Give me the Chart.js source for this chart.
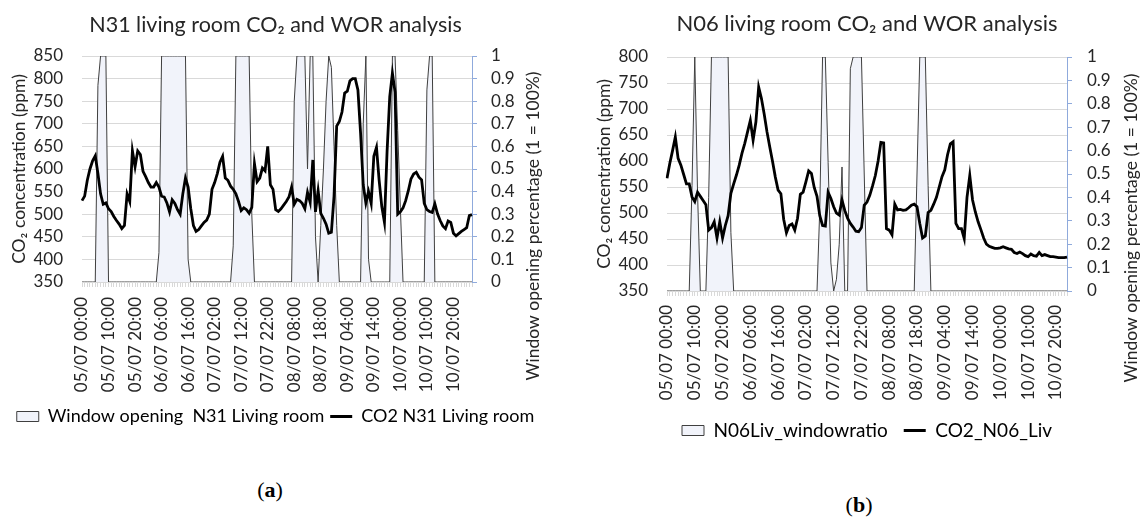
<!DOCTYPE html>
<html>
<head>
<meta charset="utf-8">
<title>Living room CO2 and WOR analysis</title>
<script src="https://cdn.jsdelivr.net/npm/chart.js@4.4.1/dist/chart.umd.min.js"></script>
<style>
  body { margin: 0; background: #fff; }
  #page { position: relative; width: 1143px; height: 519px; overflow: hidden; }
  canvas { position: absolute; top: 0; }
  #chartA { left: 0; }
  #chartB { left: 570px; }
  .cap { position: absolute; font-family: "Liberation Serif", "DejaVu Serif", serif; font-size: 22px; color: #000; transform: translate(-50%, -50%); }
</style>
</head>
<body>
<div id="page">
  <canvas id="chartA" width="570" height="440"></canvas>
  <canvas id="chartB" width="573" height="460"></canvas>
  <div class="cap" style="left:270px; top:490px">(<b>a</b>)</div>
  <div class="cap" style="left:859px; top:505px">(<b>b</b>)</div>
</div>
<script>
// DATA
const tickLabels = ['05/07 00:00', '05/07 10:00', '05/07 20:00', '06/07 06:00', '06/07 16:00',
  '07/07 02:00', '07/07 12:00', '07/07 22:00', '08/07 08:00', '08/07 18:00',
  '09/07 04:00', '09/07 14:00', '10/07 00:00', '10/07 10:00', '10/07 20:00'];

// hourly categories starting 05/07 00:00
const hourLabels = (n) => {
  const out = [];
  for (let i = 0; i < n; i++) {
    const d = String(5 + Math.floor(i / 24)).padStart(2, '0');
    const h = String(i % 24).padStart(2, '0');
    out.push(d + '/07 ' + h + ':00');
  }
  return out;
};
const hoursN31 = hourLabels(148);
const hoursN06 = hourLabels(145);

const co2N31 = [
  530, 540, 575, 600, 618, 629, 590, 545, 522, 525,
  512, 506, 495, 486, 478, 468, 475, 545, 528, 640,
  605, 640, 632, 595, 583, 570, 560, 560, 570, 560,
  540, 538, 525, 505, 532, 524, 510, 500, 545, 580,
  560, 512, 475, 462, 466, 474, 482, 487, 500, 555,
  570, 590, 615, 628, 580, 575, 562, 555, 545, 528,
  508, 514, 510, 502, 515, 612, 572, 580, 602, 596,
  650, 565, 555, 510, 506, 512, 520, 528, 538, 560,
  522, 533, 530, 524, 512, 548, 526, 620, 505, 552,
  502, 491, 478, 458, 460, 540, 695, 705, 726, 768,
  772, 795, 800, 800, 775, 680, 565, 525, 550, 524,
  628, 648, 575, 517, 482, 640, 760, 812, 770, 500,
  505, 514, 530, 552, 578, 589, 593, 582, 576, 524,
  510, 506, 504, 523, 501, 486, 474, 468, 485, 482,
  458, 452, 457, 462, 466, 470, 497, 499
];
const windowN31 = [
  0, 0, 0, 0, 0, 0, 0.87, 1, 1, 1,
  0, 0, 0, 0, 0, 0, 0, 0, 0, 0,
  0, 0, 0, 0, 0, 0, 0, 0, 0, 0.13,
  1, 1, 1, 1, 1, 1, 1, 1, 1, 1,
  0.1, 0, 0, 0, 0, 0, 0, 0, 0, 0,
  0, 0, 0, 0, 0, 0, 0, 0.16, 1, 1,
  1, 1, 1, 1, 0.3, 0, 0, 0, 0, 0,
  0, 0, 0, 0, 0, 0, 0, 0, 0, 0,
  0.8, 1, 1, 1, 1, 0.5, 1, 1, 0.2, 0,
  0.25, 0.5, 0.8, 1, 0.95, 0.6, 0.25, 0, 0, 0,
  0, 0, 0, 0, 0, 0, 0.7, 1, 0.1, 0,
  0, 0, 0, 0, 0, 0, 0, 1, 1, 0.67,
  0.33, 0, 0, 0, 0, 0, 0, 0, 0, 0,
  0.85, 1, 1, 0, 0, 0, 0, 0, 0, 0,
  0, 0, 0, 0, 0, 0, 0, 0
];

const co2N06 = [
  567, 595, 620, 646, 605, 592, 574, 556, 556, 531,
  522, 540, 532, 524, 516, 467, 472, 483, 452, 483,
  452, 476, 495, 538, 556, 573, 592, 615, 634, 656,
  678, 640, 675, 742, 720, 690, 656, 627, 599, 569,
  544, 537, 488, 462, 476, 479, 467, 490, 536, 540,
  560, 581, 576, 549, 532, 495, 476, 475, 540, 528,
  512, 500, 496, 525, 505, 490, 480, 473, 465, 464,
  472, 515, 521, 534, 552, 572, 600, 636, 635, 470,
  467, 458, 517, 506, 507, 505, 506, 510, 515, 517,
  512, 480, 452, 456, 501, 505, 517, 530, 550, 570,
  583, 612, 633, 637, 480, 470, 470, 451, 530, 572,
  525, 502, 483, 468, 452, 440, 436, 434, 432, 432,
  433, 435, 433, 431, 430, 424, 422, 425, 422, 418,
  416, 421, 418, 417, 424, 418, 420, 418, 416, 416,
  415, 414, 414, 414, 415
];
const windowN06 = [
  0, 0, 0, 0, 0, 0, 0, 0, 0, 0.45,
  1, 0.42, 0, 0, 0, 0.4, 1, 1, 1, 1,
  1, 1, 1, 0.25, 0, 0, 0, 0, 0, 0,
  0, 0, 0, 0, 0, 0, 0, 0, 0, 0,
  0, 0, 0, 0, 0, 0, 0, 0, 0, 0,
  0, 0, 0, 0, 0, 0.35, 1, 1, 0.55, 0.12,
  0, 0.05, 0.2, 0.53, 0, 0, 0.95, 1, 1, 1,
  1, 0.5, 0, 0, 0, 0, 0, 0, 0, 0,
  0, 0, 0, 0, 0, 0, 0, 0, 0, 0,
  0.5, 1, 1, 1, 0.45, 0, 0, 0, 0, 0,
  0, 0, 0, 0, 0, 0, 0, 0, 0, 0,
  0, 0, 0, 0, 0, 0, 0, 0, 0, 0,
  0, 0, 0, 0, 0, 0, 0, 0, 0, 0,
  0, 0, 0, 0, 0, 0, 0, 0, 0, 0,
  0, 0, 0, 0, 0
];

// STYLE
const FONT = 'Lato, "Open Sans", sans-serif';
const TEXT = '#262626';
const GRID = '#d9d9d9';
const AXIS_BLUE = '#8faadc';
const WIN_FILL = '#f1f3fa';
const WIN_LINE = '#3f3f3f';

// right axis title reads bottom to top, like the left one
const rightTitle = {
  id: 'rightTitle',
  afterDraw(chart, args, opts) {
    const ctx = chart.ctx;
    ctx.save();
    ctx.translate(opts.x, opts.y);
    ctx.rotate(-Math.PI / 2);
    ctx.font = opts.size + 'px ' + FONT;
    ctx.fillStyle = TEXT;
    ctx.textAlign = 'center';
    ctx.textBaseline = 'middle';
    ctx.fillText(opts.text, 0, 0);
    ctx.restore();
  }
};

function makeChart(id, o) {
  const tickFont = { family: FONT, size: o.tickSize };
  return new Chart(document.getElementById(id), {
    type: 'line',
    data: {
      labels: o.labels,
      datasets: [{
        label: o.winName,
        data: o.win,
        yAxisID: 'y1',
        borderColor: WIN_LINE,
        borderWidth: 1,
        backgroundColor: WIN_FILL,
        fill: 'origin',
        pointRadius: 0,
        tension: 0,
        order: 2
      }, {
        label: o.co2Name,
        data: o.co2,
        yAxisID: 'y',
        borderColor: '#000',
        borderWidth: 2.8,
        fill: false,
        pointRadius: 0,
        tension: 0,
        order: 1
      }]
    },
    options: {
      responsive: false,
      animation: false,
      devicePixelRatio: 1,
      layout: { padding: o.pad },
      plugins: {
        tooltip: { enabled: false },
        title: {
          display: true,
          text: o.title,
          color: TEXT,
          font: { family: FONT, size: o.titleSize, weight: 'normal' },
          padding: o.titlePad
        },
        legend: {
          position: 'bottom',
          labels: {
            usePointStyle: true,
            pointStyleWidth: 22,
            boxHeight: 10,
            padding: o.legendPad,
            color: TEXT,
            font: { family: FONT, size: o.legendSize },
            generateLabels: () => [
              { text: o.winName, fillStyle: WIN_FILL, strokeStyle: WIN_LINE, lineWidth: 1, pointStyle: 'rect', datasetIndex: 0, hidden: false },
              { text: o.co2Name, fillStyle: '#000', strokeStyle: '#000', lineWidth: 3, pointStyle: 'line', datasetIndex: 1, hidden: false }
            ]
          }
        },
        rightTitle: { text: 'Window opening percentage (1 = 100%)', x: o.rtX, y: o.rtY, size: o.axisTitleSize }
      },
      scales: {
        x: {
          offset: false,
          grid: { drawOnChartArea: false, drawTicks: true, tickLength: 5, color: GRID },
          border: { display: true, color: GRID },
          ticks: {
            autoSkip: false,
            minRotation: 90,
            maxRotation: 90,
            padding: o.xPad,
            color: TEXT,
            font: tickFont,
            callback: function (v) {
              const l = this.getLabelForValue(v);
              return tickLabels.includes(l) ? l : '';
            }
          },
          afterFit: s => { s.height = o.xHeight; }
        },
        y: {
          position: 'left',
          min: 350,
          max: o.yMax,
          ticks: { stepSize: 50, autoSkip: false, padding: 19, color: TEXT, font: tickFont },
          grid: { color: GRID, drawTicks: false },
          border: { display: false },
          title: {
            display: true,
            text: 'CO₂ concentration (ppm)',
            color: TEXT,
            font: { family: FONT, size: o.axisTitleSize },
            padding: { top: o.yTitlePad, bottom: 0 }
          },
          afterFit: s => { s.width = o.yWidth; }
        },
        y1: {
          position: 'right',
          min: 0,
          max: 1,
          ticks: {
            stepSize: 0.1,
            autoSkip: false,
            padding: o.y1Pad,
            color: TEXT,
            font: tickFont,
            callback: v => String(Math.round(v * 10) / 10)
          },
          grid: { drawOnChartArea: false, drawTicks: true, tickLength: 5, color: AXIS_BLUE },
          border: { display: true, color: AXIS_BLUE },
          afterFit: s => { s.width = o.y1Width; }
        }
      }
    },
    plugins: [rightTitle]
  });
}

makeChart('chartA', {
  labels: hoursN31, co2: co2N31, win: windowN31, yMax: 850,
  title: 'N31 living room CO₂ and WOR analysis',
  winName: 'Window opening  N31 Living room', co2Name: 'CO2 N31 Living room',
  pad: { left: 0, right: 19, top: 0, bottom: 4.5 },
  titleSize: 21.5, titlePad: { top: 12.1, bottom: 18.1 },
  tickSize: 17, axisTitleSize: 17.5, legendSize: 18, legendPad: 6,
  yWidth: 82, y1Width: 79, y1Pad: 14, yTitlePad: 8.5,
  xHeight: 119.5, xPad: 10,
  rtX: 533, rtY: 226
});

makeChart('chartB', {
  labels: hoursN06, co2: co2N06, win: windowN06, yMax: 800,
  title: 'N06 living room CO₂ and WOR analysis',
  winName: 'N06Liv_windowratio', co2Name: 'CO2_N06_Liv',
  pad: { left: 21, right: 0, top: 0, bottom: 10 },
  titleSize: 22, titlePad: { top: 10.8, bottom: 19.8 },
  tickSize: 17, axisTitleSize: 17.5, legendSize: 19, legendPad: 16,
  yWidth: 76, y1Width: 76, y1Pad: 15, yTitlePad: 2.5,
  xHeight: 114, xPad: 9,
  rtX: 561, rtY: 228
});
</script>
</body>
</html>
